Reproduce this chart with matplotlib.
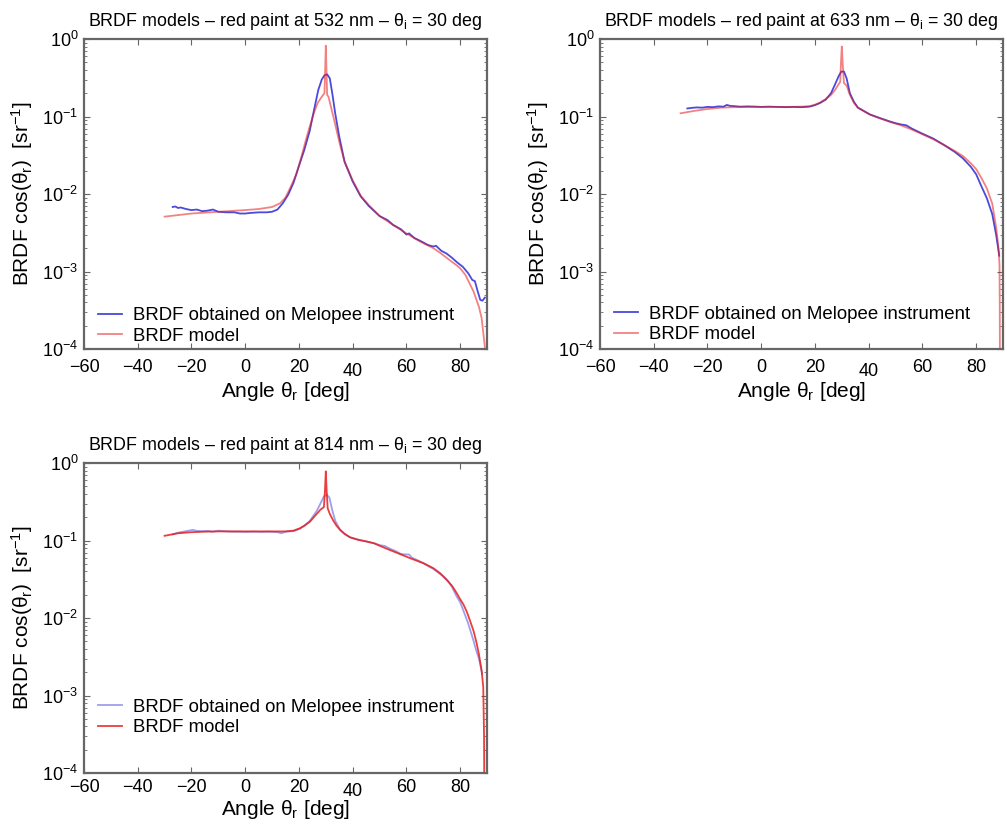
import matplotlib
matplotlib.use("Agg")
import matplotlib.pyplot as plt
from matplotlib.ticker import LogLocator, NullFormatter, FixedLocator

plt.rcParams['font.family'] = ['Liberation Sans', 'DejaVu Sans']
plt.rcParams['mathtext.fontset'] = 'custom'
plt.rcParams['mathtext.rm'] = 'Liberation Sans'
plt.rcParams['mathtext.it'] = 'Liberation Sans:italic'
plt.rcParams['mathtext.bf'] = 'Liberation Sans:bold'

# ---------------- data ----------------
titles = ["BRDF models \u2013 red paint at 532 nm \u2013 \u03b8$_\\mathrm{i}$ = 30 deg",
          "BRDF models \u2013 red paint at 633 nm \u2013 \u03b8$_\\mathrm{i}$ = 30 deg",
          "BRDF models \u2013 red paint at 814 nm \u2013 \u03b8$_\\mathrm{i}$ = 30 deg"]
legend_labels = ["BRDF obtained on Melopee instrument", "BRDF model"]
xticks = [-60, -40, -20, 0, 20, 40, 60, 80]

# 532 nm
x_model_532 = [-30, -20, -10, 0, 5, 10, 13, 15, 17, 19, 20.4, 22.8, 25.3, 27, 28.5, 29.5, 29.8, 30.0, 30.2, 30.5,
               31, 32.8, 35.3, 37, 40, 43, 46, 50, 55, 60, 65, 70, 72.5, 75, 78.7, 80, 82, 85, 87, 88, 89.2, 89.6]
y_model_532 = [5.1e-3, 5.6e-3, 5.9e-3, 6.2e-3, 6.4e-3, 6.8e-3, 7.6e-3, 9.0e-3, 1.25e-2, 1.8e-2, 2.6e-2, 5.3e-2,
               0.105, 0.15, 0.18, 0.2, 0.45, 0.82, 0.45, 0.19, 0.18, 0.10, 0.043, 0.026, 0.015, 9.5e-3, 7.2e-3,
               5.2e-3, 4.0e-3, 3.1e-3, 2.45e-3, 2.0e-3, 1.75e-3, 1.5e-3, 1.2e-3, 1.1e-3, 9.0e-4, 5.5e-4, 3.5e-4,
               2.5e-4, 1.07e-4, 5e-5]
x_meas_532 = [-27, -26, -25, -24, -22, -20, -18, -16, -14, -12, -10, -7, -4, -2, 0, 2, 5, 8, 10, 12, 14, 16, 18,
              20, 22, 24, 26, 27.2, 28.5, 29.5, 30.5, 31.5, 32.5, 33.5, 35, 37, 40, 43, 46, 50, 53, 55, 58, 60, 61,
              63, 65, 68, 70, 71, 73, 75, 77, 79, 81, 83, 84.5, 85.5, 86.5, 87.5, 88.3, 89.2]
y_meas_532 = [6.8e-3, 6.9e-3, 6.6e-3, 6.7e-3, 6.4e-3, 6.2e-3, 6.3e-3, 6.0e-3, 6.1e-3, 6.3e-3, 5.9e-3, 5.8e-3,
              5.8e-3, 5.6e-3, 5.6e-3, 5.7e-3, 5.8e-3, 5.8e-3, 5.9e-3, 6.3e-3, 7.6e-3, 9.8e-3, 1.4e-2, 2.3e-2,
              3.7e-2, 6.5e-2, 0.14, 0.22, 0.30, 0.34, 0.35, 0.31, 0.19, 0.11, 0.055, 0.026, 0.0145, 9.3e-3, 7.0e-3,
              5.2e-3, 4.6e-3, 4.0e-3, 3.5e-3, 3.0e-3, 3.1e-3, 2.7e-3, 2.5e-3, 2.2e-3, 2.1e-3, 2.15e-3, 1.85e-3,
              1.7e-3, 1.5e-3, 1.3e-3, 1.15e-3, 9.5e-4, 7.8e-4, 7.5e-4, 5.6e-4, 4.3e-4, 4.2e-4, 4.6e-4]

# 633 nm
x_model_633 = [-30, -25, -20, -15, -10, 0, 10, 15, 18, 20, 22, 24, 26, 27.5, 28.8, 29.4, 29.7, 30.0, 30.3, 30.8,
               31.8, 33, 34.5, 36, 38, 40.5, 44, 48, 52, 56, 60, 64, 68, 72, 75, 78, 80, 82, 84, 86, 87.5, 88.4,
               88.7, 88.8, 88.85]
y_model_633 = [0.11, 0.118, 0.125, 0.13, 0.132, 0.133, 0.133, 0.134, 0.136, 0.142, 0.152, 0.168, 0.19, 0.22,
               0.26, 0.28, 0.5, 0.80, 0.5, 0.27, 0.25, 0.19, 0.15, 0.13, 0.118, 0.106, 0.095, 0.085, 0.077, 0.068,
               0.059, 0.051, 0.043, 0.036, 0.031, 0.025, 0.021, 0.016, 0.0118, 0.0075, 0.0036, 0.0019, 0.0012,
               3e-4, 5e-5]
x_meas_633 = [-27.5, -26, -24, -22, -20, -18, -16, -14, -12.8, -11.5, -10, -8, -5, -2, 0, 3, 6, 9, 12, 15, 18,
              20, 22, 24, 26, 27.5, 28.8, 29.8, 30.8, 31.8, 33, 34.5, 36, 38, 40.5, 44, 48, 50, 52, 54, 56, 60, 64,
              68, 72, 75, 78, 80, 82, 84, 86, 87.5, 88.6]
y_meas_633 = [0.127, 0.129, 0.131, 0.13, 0.133, 0.132, 0.135, 0.134, 0.141, 0.137, 0.136, 0.134, 0.135, 0.134,
              0.133, 0.134, 0.133, 0.132, 0.133, 0.132, 0.134, 0.14, 0.15, 0.165, 0.2, 0.26, 0.33, 0.38, 0.38,
              0.31, 0.2, 0.155, 0.13, 0.119, 0.106, 0.096, 0.086, 0.082, 0.079, 0.077, 0.07, 0.06, 0.052, 0.043,
              0.035, 0.029, 0.0225, 0.018, 0.0125, 0.0088, 0.0055, 0.0029, 0.0016]

# 814 nm
x_model_814 = [-30, -25, -20, -15, -10, 0, 10, 15, 18, 20.4, 22, 24.1, 26.6, 28, 29.3, 29.7, 30.0, 30.3, 30.7,
               31.5, 32.8, 34, 35.3, 37, 39, 42, 45.2, 48, 50.2, 54, 58, 62, 66.3, 70, 72.5, 75, 77, 78.7, 80,
               81.2, 82.5, 83.7, 85, 86.1, 87, 88.0, 88.6, 88.9, 89.0]
y_model_814 = [0.115, 0.124, 0.128, 0.13, 0.131, 0.131, 0.131, 0.131, 0.134, 0.144, 0.155, 0.175, 0.22, 0.25,
               0.27, 0.45, 0.78, 0.45, 0.26, 0.22, 0.18, 0.155, 0.137, 0.122, 0.11, 0.102, 0.097, 0.092, 0.085,
               0.075, 0.066, 0.058, 0.051, 0.044, 0.038, 0.031, 0.026, 0.021, 0.0175, 0.015, 0.012, 0.0092,
               0.0068, 0.0048, 0.0034, 0.0021, 0.0013, 3e-4, 5e-5]
x_meas_814 = [-27, -25, -23, -21, -19.5, -18, -16, -14, -12, -10, -8, -5, -2, 0, 3, 6, 9, 12, 13.5, 15, 18, 20.4,
              22, 24.1, 26.6, 28, 29.3, 30.3, 31.3, 32.5, 33.5, 35.3, 37, 39, 42, 45.2, 48, 50.2, 52, 54, 56, 58,
              60, 61, 62, 64, 66.3, 68, 70, 72.5, 74, 75.5, 77, 78.7, 80, 81.2, 83, 84.9, 86.1, 87, 88.2]
y_meas_814 = [0.12, 0.126, 0.13, 0.134, 0.137, 0.133, 0.132, 0.133, 0.13, 0.134, 0.132, 0.13, 0.13, 0.129, 0.13,
              0.129, 0.13, 0.128, 0.124, 0.13, 0.132, 0.142, 0.155, 0.18, 0.24, 0.3, 0.37, 0.39, 0.36, 0.24, 0.18,
              0.138, 0.121, 0.11, 0.103, 0.097, 0.092, 0.087, 0.085, 0.078, 0.073, 0.067, 0.066, 0.066, 0.06,
              0.056, 0.051, 0.047, 0.043, 0.037, 0.034, 0.03, 0.025, 0.019, 0.016, 0.0125, 0.0085, 0.0052,
              0.0037, 0.003, 0.0019]

panels = [
    (titles[0], x_meas_532, y_meas_532, x_model_532, y_model_532),
    (titles[1], x_meas_633, y_meas_633, x_model_633, y_model_633),
    (titles[2], x_meas_814, y_meas_814, x_model_814, y_model_814),
]

# ---------------- layout ----------------
W, H = 1007, 824
fig = plt.figure(figsize=(W / 100, H / 100), dpi=100)
boxes = [(84, 39, 487, 349), (600, 39, 1003, 349), (84, 463, 487, 773)]
meas_alpha = [0.85, 0.85, 0.45]
model_alpha = [0.55, 0.55, 0.85]
legend_anchor = [(0.035, 0.135), (0.035, 0.14), (0.035, 0.24)]
xtick_pad = [7, 7, 4]
xlabel_pad = [0, 0, -1]

grey = '#666666'
for i, (title, xm, ym, xs, ys) in enumerate(panels):
    l, t, r, b = boxes[i]
    ax = fig.add_axes([l / W, 1 - b / H, (r - l) / W, (b - t) / H])
    ax.semilogy(xm, ym, color='#2a2ad8', lw=1.3, alpha=meas_alpha[i], label=legend_labels[0])
    ax.semilogy(xs, ys, color='#e81c1c', lw=1.3, alpha=model_alpha[i], label=legend_labels[1])
    ax.set_xlim(-60, 90)
    ax.set_ylim(1e-4, 1e0)
    ax.xaxis.set_major_locator(FixedLocator(xticks))
    ax.yaxis.set_major_locator(LogLocator(base=10, numticks=10))
    ax.yaxis.set_minor_locator(LogLocator(base=10, subs=range(2, 10), numticks=10))
    ax.yaxis.set_minor_formatter(NullFormatter())
    ax.tick_params(which='both', direction='in', top=True, right=True, color=grey)
    ax.tick_params(which='major', length=4, width=0.8, labelsize=13)
    ax.tick_params(which='minor', length=2, width=0.6)
    ax.tick_params(axis='x', which='major', pad=xtick_pad[i])
    ax.tick_params(axis='y', which='major', pad=4)
    for s in ax.spines.values():
        s.set_color(grey)
        s.set_linewidth(1.6)
    # the "40" label sits slightly lower in the original
    ax.xaxis.get_major_ticks()[5].set_pad(xtick_pad[i] + 3)
    ax.set_title(title, fontsize=12.9, pad=9)
    ax.set_xlabel('Angle \u03b8$_\\mathrm{r}$ [deg]', fontsize=15, labelpad=xlabel_pad[i])
    ax.set_ylabel('BRDF cos(\u03b8$_\\mathrm{r}$)  [sr$^{-1}$]', fontsize=15, labelpad=5)
    ax.legend(loc='upper left', bbox_to_anchor=legend_anchor[i], frameon=False, fontsize=13.4,
              handlelength=1.3, handletextpad=0.6, labelspacing=0.2, borderaxespad=0, borderpad=0)

fig.savefig('out.png', dpi=100)
